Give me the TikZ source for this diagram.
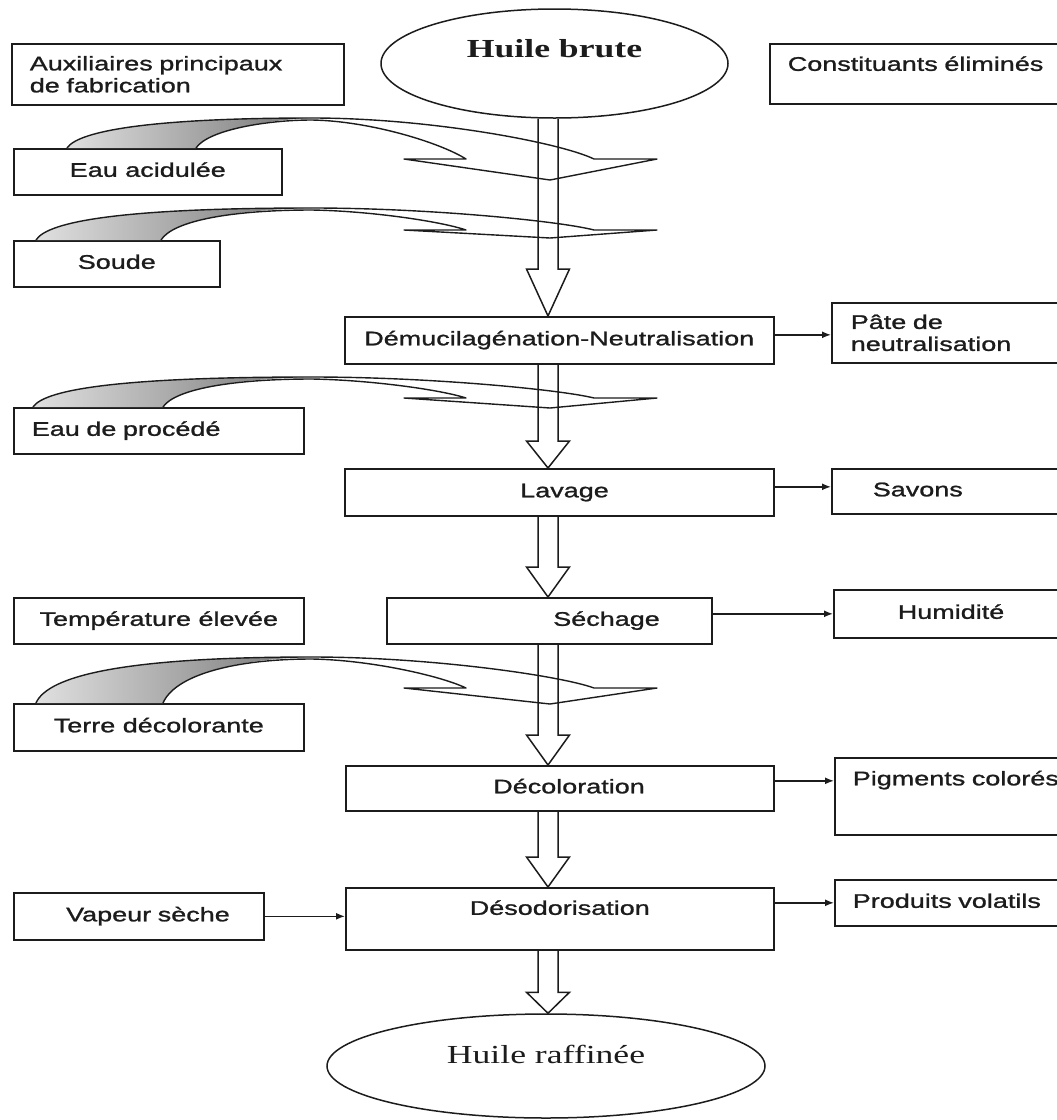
\documentclass[tikz,border=0pt]{standalone}
\usepackage{fontspec}
\usepackage{tikz}
\usetikzlibrary{arrows.meta,positioning,calc,shapes.geometric}
\newfontfamily\boxfont{Liberation Sans}[FakeStretch=1.37,FakeBold=1.2]
\newfontfamily\ovalfont{Liberation Serif}[FakeStretch=1.37]
\definecolor{pencil}{HTML}{1C1C1C}

\tikzset{
  box/.style={draw=pencil, line width=1.6pt, anchor=north west, inner ysep=0pt,
    text=pencil, font=\boxfont\fontsize{19.7}{22}\selectfont},
  single/.style={text height=14pt, text depth=4pt},
  oval/.style={draw=pencil, line width=1.5pt, ellipse, inner sep=0pt, text=pencil},
  outarrow/.style={draw=pencil, line width=1.5pt, -{Latex[length=9pt,width=7pt]}},
  shaftline/.style={draw=pencil, line width=1.5pt, line join=miter},
  feedline/.style={draw=pencil, line width=1.4pt, line join=round},
  feedshade/.style={left color=black!12, right color=black!55}
}

% hollow double-line arrow of the main column
\newcommand\oilshaft[3]{%
  \draw[shaftline] ($(#1.south -| axis)+(-10,0)$) -- ($(#2.north -| axis)+(-10,-#3)$)
    -- ++(-11.5,0) -- (#2.north -| axis) -- ++(21.5,-#3) -- ++(-11.5,0)
    -- ($(#1.south -| axis)+(10,0)$);}

% curved input arrow: outer base x, inner base x, base y, top y, head y, tip y
\newcommand\feedarrow[6]{%
  \shade[feedshade] (#1,#3) .. controls (#1+12,0.4*#3+0.6*#4) and (#1+90,#4) .. (312,#4)
    .. controls (#2+70,#4+2) and (#2+12,0.4*#3+0.6*#4) .. (#2,#3) -- cycle;
  \draw[feedline] (#1,#3) .. controls (#1+12,0.4*#3+0.6*#4) and (#1+90,#4) .. (312,#4)
    .. controls (430,#4) and (560,0.6*#5+0.4*#4) .. (594,#5)
    -- (657,#5) -- (550,#6) -- (404,#5) -- (466,#5)
    .. controls (440,0.6*#5+0.4*#4) and (370,#4+3) .. (312,#4+2)
    .. controls (#2+70,#4+2) and (#2+12,0.4*#3+0.6*#4) .. (#2,#3);}

\begin{document}
\begin{tikzpicture}[x=1pt,y=-1pt]
  \useasboundingbox (0,0) rectangle (1057,1120);
  \clip (0,0) rectangle (1057,1120);
  \coordinate (axis) at (548,0);

  % headers
  \node[box, inner xsep=18pt, text width=296pt, align=left, minimum height=61pt] (aux) at (11,43) {Auxiliaires principaux\\de fabrication};
  \node[oval, minimum width=347pt, minimum height=109pt, font=\ovalfont\bfseries\fontsize{26}{30}\selectfont,
    text height=18pt, text depth=31pt] (brute) at (554.5,63.5) {Huile brute};
  \node[box, single, inner xsep=18pt, text width=284pt, align=left, minimum height=60pt, text depth=20pt] (const) at (769,43) {Constituants éliminés};

  % inputs
  \node[box, single, minimum width=268pt, minimum height=46pt] (acid) at (13,148) {Eau acidulée};
  \node[box, single, minimum width=206pt, minimum height=46pt] (soude) at (13,240) {Soude};
  \node[box, single, inner xsep=18pt, text width=254pt, align=left, minimum height=46pt] (procede) at (13,407) {Eau de procédé};
  \node[box, single, minimum width=290pt, minimum height=46pt] (temp) at (13,597) {Température élevée};
  \node[box, single, minimum width=290pt, minimum height=47pt] (terre) at (13,703) {Terre décolorante};
  \node[box, single, inner xsep=34pt, text width=182pt, align=right, minimum height=47pt] (vapeur) at (13,892) {Vapeur sèche};

  % process steps
  \node[box, single, minimum width=429pt, minimum height=47pt] (demuc) at (344,316) {Démucilagénation-Neutralisation};
  \node[box, single, inner xsep=165pt, text width=99pt, align=right, minimum height=47pt] (lavage) at (344,468) {Lavage};
  \node[box, single, inner xsep=52pt, text width=221pt, align=right, minimum height=46pt] (sechage) at (386,597) {Séchage};
  \node[box, single, inner xsep=129pt, text width=170pt, align=right, minimum height=45pt] (decol) at (345,765) {Décoloration};
  \node[box, single, text depth=22pt, minimum width=428pt, minimum height=62pt] (desod) at (345,887) {Désodorisation};
  \node[oval, minimum width=438pt, minimum height=104pt, font=\ovalfont\fontsize{26}{30}\selectfont,
    text height=17pt, text depth=23pt] (raff) at (546,1066) {Huile raffinée};

  % removed constituents
  \node[box, inner xsep=19pt, text width=232pt, align=left, minimum height=60pt] (pate) at (831,302) {Pâte de\\neutralisation};
  \node[box, single, inner xsep=41pt, text width=168pt, align=left, minimum height=45pt] (savons) at (831,468) {Savons};
  \node[box, single, inner xsep=64pt, text width=119pt, align=left, minimum height=48pt] (humid) at (833,589) {Humidité};
  \node[box, single, inner xsep=18pt, text width=234pt, align=left, minimum height=77pt, text depth=36pt] (pigm) at (834,757) {Pigments colorés};
  \node[box, single, inner xsep=18pt, text width=234pt, align=left, minimum height=46pt] (prod) at (834,879) {Produits volatils};

  % curved inputs
  \feedarrow{67}{196}{148}{118}{159}{180}
  \feedarrow{36}{161}{240}{208}{230}{238}
  \feedarrow{33}{163}{407}{377}{398}{408}
  \feedarrow{36}{163}{703}{657}{688}{704}

  % main column
  \oilshaft{brute}{demuc}{47}
  \oilshaft{demuc}{lavage}{27}
  \oilshaft{lavage}{sechage}{30}
  \oilshaft{sechage}{decol}{30}
  \oilshaft{decol}{desod}{30}
  \oilshaft{desod}{raff}{21}

  % side arrows
  \draw[outarrow] (demuc.east) ++(0,-5.5) coordinate (o1) -- (o1 -| pate.west);
  \draw[outarrow] (lavage.east) ++(0,-5.5) coordinate (o2) -- (o2 -| savons.west);
  \draw[outarrow] (sechage.east) ++(0,-7) coordinate (o3) -- (o3 -| humid.west);
  \draw[outarrow] (decol.east) ++(0,-7.5) coordinate (o4) -- (o4 -| pigm.west);
  \draw[outarrow] (desod.east) ++(0,-16) coordinate (o5) -- (o5 -| prod.west);
  \draw[outarrow] (vapeur.east) -- (vapeur.east -| desod.west);
\end{tikzpicture}
\end{document}
